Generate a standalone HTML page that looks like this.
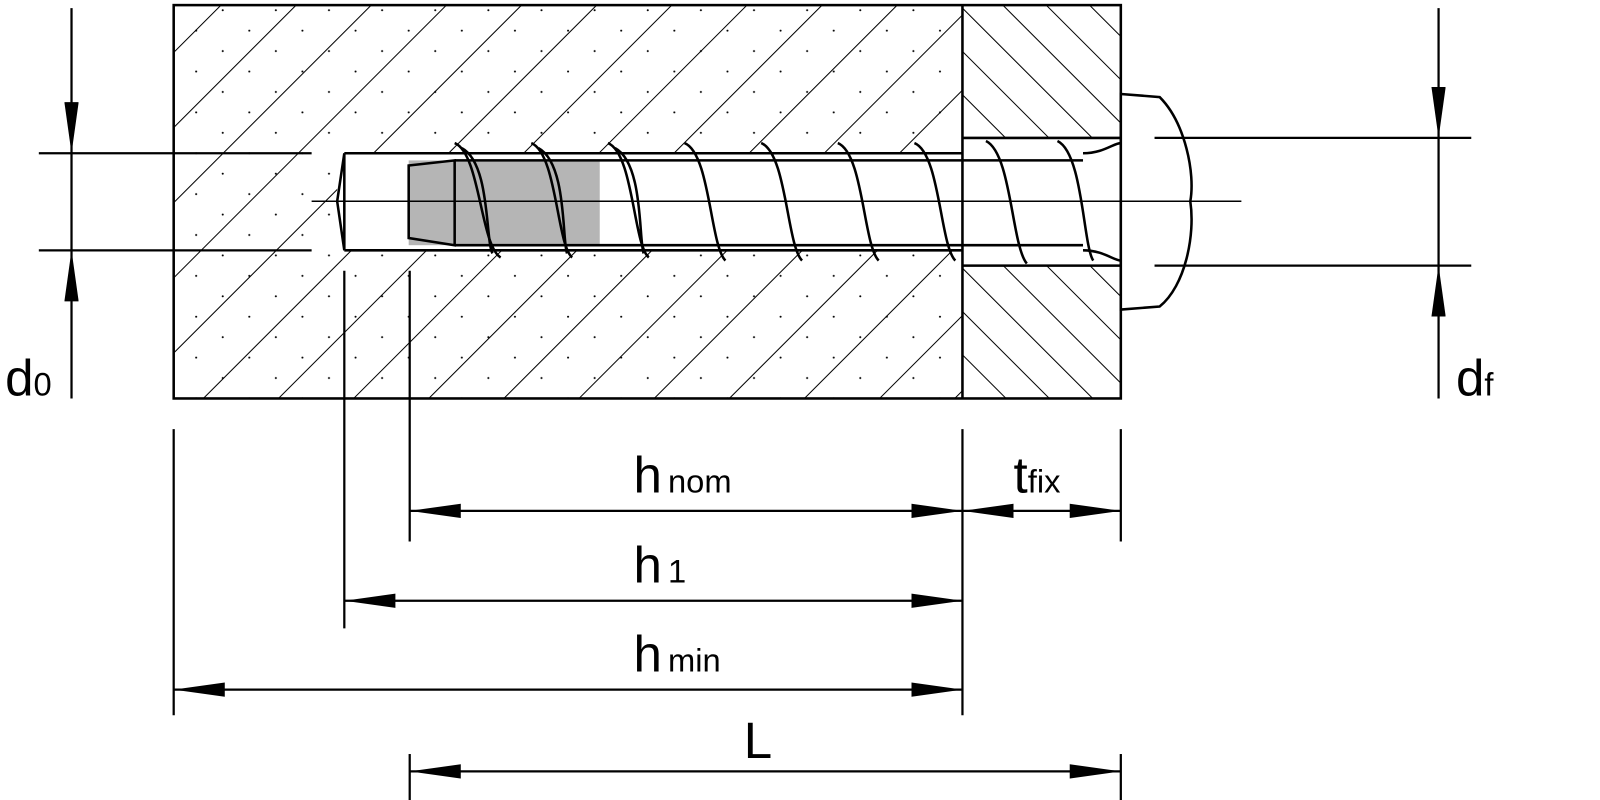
<!DOCTYPE html>
<html><head><meta charset="utf-8"><style>
html,body{margin:0;padding:0;background:#fff;width:1600px;height:800px;overflow:hidden}
svg{display:block}
text{font-family:"Liberation Sans",sans-serif;fill:#000}
</style></head><body>
<svg width="1600" height="800" viewBox="0 0 1566 783" preserveAspectRatio="none" xmlns="http://www.w3.org/2000/svg">
<defs>
<pattern id="hc" patternUnits="userSpaceOnUse" width="52" height="52" patternTransform="rotate(45)">
<line x1="0" y1="0" x2="0" y2="52" stroke="#000" stroke-width="2"/>
</pattern>
<pattern id="dots" patternUnits="userSpaceOnUse" width="52" height="40">
<circle cx="10" cy="10" r="1" fill="#000"/><circle cx="36" cy="30" r="1" fill="#000"/>
</pattern>
<pattern id="hf" patternUnits="userSpaceOnUse" width="30" height="30" patternTransform="rotate(-45)">
<line x1="0" y1="0" x2="0" y2="30" stroke="#000" stroke-width="2"/>
</pattern>
<marker id="a" viewBox="0 0 50 14" refX="50" refY="7" markerWidth="50" markerHeight="14" markerUnits="userSpaceOnUse" orient="auto-start-reverse">
<path d="M0,0 L50,7 L0,14 Z" fill="#000"/>
</marker>
</defs>
<rect x="170" y="5" width="772" height="385" fill="url(#hc)"/>
<rect x="170" y="5" width="772" height="385" fill="url(#dots)"/>
<rect x="942" y="5" width="155" height="385" fill="url(#hf)"/>
<rect x="330" y="150" width="612" height="95" fill="#fff"/>
<rect x="942" y="135" width="155" height="125" fill="#fff"/>
<rect x="170" y="5" width="927" height="385" fill="none" stroke="#000" stroke-width="2.5"/>
<line x1="942" y1="5" x2="942" y2="390" stroke="#000" stroke-width="2.5"/>
<path d="M337,150 H942 M337,245 H942 M942,135 H1097 M942,260 H1097" stroke="#000" stroke-width="2.5" fill="none"/>
<path d="M337,150 L330,197 L337,245 Z" fill="#fff" stroke="#000" stroke-width="2.5"/>
<rect x="400" y="157" width="187" height="83" fill="#b5b5b5"/>
<path d="M400,162 L445,157 L445,240 L400,233 Z" fill="#b5b5b5" stroke="#000" stroke-width="2.5"/>
<path d="M445,157 H1060 M445,240 H1060" stroke="#000" stroke-width="2.5"/>
<g stroke="#000" stroke-width="2.5" fill="none">
<path d="M445,140 C470,150 470,240 490,252"/><path d="M452,145 C480,160 475,235 482,248"/>
<path d="M520,140 C545,150 545,240 560,252"/><path d="M527,145 C555,160 550,235 555,248"/>
<path d="M595,140 C620,150 620,240 635,252"/><path d="M602,145 C630,160 625,235 630,248"/>
<path d="M670,140 C695,150 695,240 710,255"/>
<path d="M745,140 C770,150 770,240 785,255"/>
<path d="M820,140 C845,150 845,240 860,255"/>
<path d="M895,140 C920,150 920,240 935,255"/>
<path d="M965,138 C990,150 990,240 1005,258"/>
<path d="M1035,138 C1060,150 1060,240 1070,255"/>
</g>
<path d="M1097,92 L1135,95 C1160,120 1170,170 1165,197 C1170,230 1160,280 1135,300 L1097,303 Z" fill="#fff" stroke="#000" stroke-width="2.5"/>
<path d="M1060,150 C1080,150 1090,140 1097,140 M1060,245 C1080,245 1090,255 1097,255" stroke="#000" stroke-width="2.5" fill="none"/>
<line x1="305" y1="197" x2="1215" y2="197" stroke="#000" stroke-width="1.5"/>
<g stroke="#000" stroke-width="2.2" fill="none">
<line x1="38" y1="150" x2="305" y2="150"/><line x1="38" y1="245" x2="305" y2="245"/>
<line x1="70" y1="8" x2="70" y2="150" marker-end="url(#a)"/>
<line x1="70" y1="390" x2="70" y2="245" marker-end="url(#a)"/>
<line x1="70" y1="150" x2="70" y2="245"/>
<line x1="1130" y1="135" x2="1440" y2="135"/><line x1="1130" y1="260" x2="1440" y2="260"/>
<line x1="1408" y1="8" x2="1408" y2="135" marker-end="url(#a)"/>
<line x1="1408" y1="390" x2="1408" y2="260" marker-end="url(#a)"/>
<line x1="1408" y1="135" x2="1408" y2="260"/>
<line x1="170" y1="420" x2="170" y2="700"/>
<line x1="337" y1="265" x2="337" y2="615"/>
<line x1="401" y1="265" x2="401" y2="530"/>
<line x1="942" y1="420" x2="942" y2="700"/>
<line x1="1097" y1="420" x2="1097" y2="530"/>
<line x1="401" y1="738" x2="401" y2="783"/>
<line x1="1097" y1="738" x2="1097" y2="783"/>
<line x1="401" y1="500" x2="942" y2="500" marker-start="url(#a)" marker-end="url(#a)"/>
<line x1="942" y1="500" x2="1097" y2="500" marker-start="url(#a)" marker-end="url(#a)"/>
<line x1="337" y1="588" x2="942" y2="588" marker-start="url(#a)" marker-end="url(#a)"/>
<line x1="170" y1="675" x2="942" y2="675" marker-start="url(#a)" marker-end="url(#a)"/>
<line x1="401" y1="755" x2="1097" y2="755" marker-start="url(#a)" marker-end="url(#a)"/>
</g>
<text x="5" y="387" font-size="50">d<tspan font-size="32">0</tspan></text>
<text x="1425" y="387" font-size="50">d<tspan font-size="32">f</tspan></text>
<text x="620" y="482" font-size="50">h<tspan font-size="32" dx="6">nom</tspan></text>
<text x="992" y="482" font-size="50">t<tspan font-size="32">fix</tspan></text>
<text x="620" y="570" font-size="50">h<tspan font-size="32" dx="6">1</tspan></text>
<text x="620" y="657" font-size="50">h<tspan font-size="32" dx="6">min</tspan></text>
<text x="728" y="742" font-size="50">L</text>
</svg>
</body></html>
